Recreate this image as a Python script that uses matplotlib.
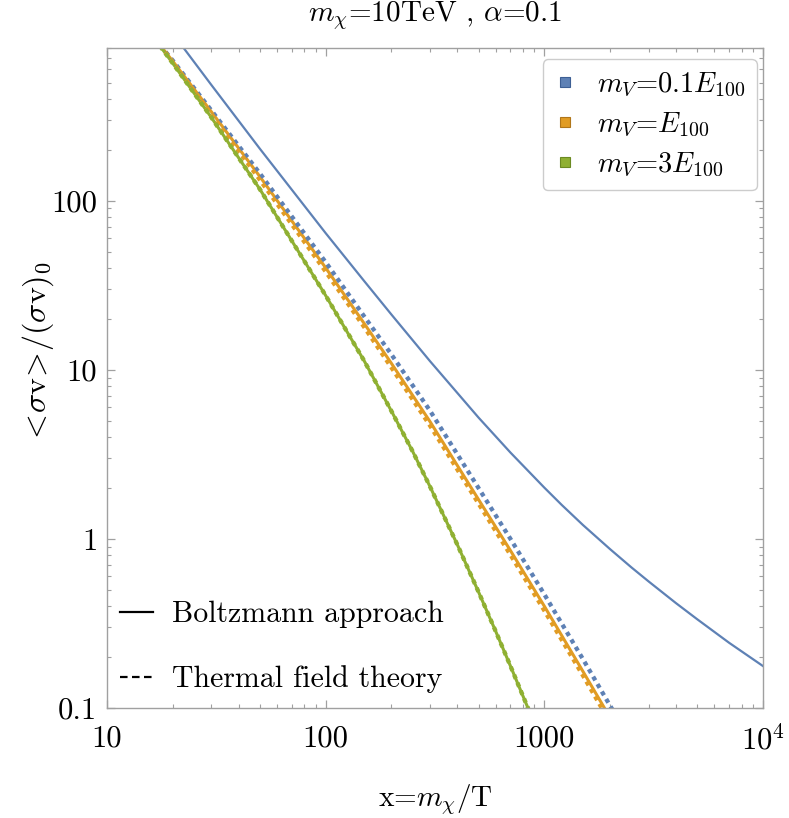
import matplotlib.pyplot as plt
from matplotlib.lines import Line2D

# values (log-log)
x_blue_solid = [20, 22, 30, 50, 100, 150, 200, 300, 500, 700, 1000, 1200, 1500, 2000, 2500, 3000, 4000,
                5000, 7000, 10000]
y_blue_solid = [970, 826, 484, 203, 64.3, 33.5, 21.2, 11.25, 5.22, 3.24, 2.01, 1.59, 1.21, 0.869, 0.679,
                0.560, 0.417, 0.335, 0.243, 0.177]

x_orange_solid = [17.5, 20, 30, 50, 100, 150, 200, 300, 500, 700, 1000, 1500, 1900, 2000]
y_orange_solid = [830, 668, 336, 139, 40.1, 18.8, 10.9, 4.94, 1.71, 0.853, 0.40, 0.165, 0.098, 0.088]

x_blue_dashed = [17.5, 20, 30, 50, 100, 150, 200, 300, 500, 700, 1000, 1500, 2000, 2100]
y_blue_dashed = [830, 674, 342, 145, 43.3, 20.7, 12.3, 5.73, 2.0, 1.0, 0.47, 0.195, 0.103, 0.093]

x_orange_dashed = [17.5, 20, 30, 50, 100, 150, 200, 300, 500, 700, 1000, 1500, 1900]
y_orange_dashed = [830, 661, 328, 133, 38.1, 17.9, 10.3, 4.68, 1.62, 0.805, 0.377, 0.156, 0.092]

x_green = [17.5, 20, 30, 50, 100, 150, 200, 250, 300, 400, 500, 600, 700, 850]
y_green = [820, 649, 311, 117, 27.5, 11.3, 5.69, 3.29, 2.04, 0.925, 0.486, 0.283, 0.177, 0.097]

x_ticks = [10, 100, 1000, 10000]
x_tick_labels = ['10', '100', '1000', r'$10^4$']
y_ticks = [0.1, 1, 10, 100]
y_tick_labels = ['0.1', '1', '10', '100']

series_labels = [r'$m_V$=0.1$E_{100}$', r'$m_V$=$E_{100}$', r'$m_V$=3$E_{100}$']
method_labels = ['Boltzmann approach', 'Thermal field theory']

blue, orange, green = '#5e81b5', '#e19c24', '#8fb032'
edge_colors = ['#3d5f94', '#b0761a', '#6b8a22']

plt.rcParams['font.family'] = 'cmr10'
plt.rcParams['mathtext.fontset'] = 'cm'
plt.rcParams['axes.formatter.use_mathtext'] = True
plt.rcParams['font.size'] = 21

W, H = 789, 818
fig = plt.figure(figsize=(W / 100, H / 100), dpi=100)
ax = fig.add_axes([107 / W, 1 - 708 / H, 656 / W, 660 / H])

lw_solid = 1.6
lw_dash = 3.1
dash = (0, (1.0, 1.0))

ax.plot(x_blue_solid, y_blue_solid, color=blue, lw=lw_solid)
ax.plot(x_orange_solid, y_orange_solid, color=orange, lw=lw_solid + 0.6)
ax.plot(x_green, y_green, color=green, lw=lw_solid + 0.6)
ax.plot(x_blue_dashed, y_blue_dashed, color=blue, lw=lw_dash, linestyle=dash)
ax.plot(x_orange_dashed, y_orange_dashed, color=orange, lw=lw_dash, linestyle=dash)
ax.plot(x_green, y_green, color=green, lw=lw_dash, linestyle=dash)

ax.set_xscale('log')
ax.set_yscale('log')
ax.set_xlim(10, 10000)
ax.set_ylim(0.1, 800)
ax.set_xticks(x_ticks, x_tick_labels)
ax.set_yticks(y_ticks, y_tick_labels)

frame_gray = '#a0a0a0'
for side in ax.spines.values():
    side.set_color(frame_gray)
    side.set_linewidth(1.0)
ax.tick_params(which='both', direction='in', top=True, right=True, color=frame_gray)
ax.tick_params(which='major', length=6, width=0.9, labelsize=22)
ax.tick_params(axis='x', which='major', pad=12)
ax.tick_params(axis='y', which='major', pad=7)
ax.tick_params(which='minor', length=3, width=0.8)

# series legend (top right)
handles = [Line2D([], [], marker='s', linestyle='none', markersize=7,
                  markerfacecolor=c, markeredgecolor=e, markeredgewidth=0.8)
           for c, e in zip([blue, orange, green], edge_colors)]
leg = ax.legend(handles, series_labels, loc='upper right', bbox_to_anchor=(0.991, 0.983),
                fontsize=20.5, frameon=True, fancybox=True, edgecolor='#cccccc',
                framealpha=1, labelspacing=0.42, handlelength=0.8, handletextpad=0.7,
                borderpad=0.4, borderaxespad=0)
leg.get_frame().set_linewidth(1.0)
ax.add_artist(leg)

# method legend (bottom left)
method_handles = [Line2D([], [], color='black', lw=1.6),
                  Line2D([], [], color='black', lw=1.6, linestyle=(0, (3.4, 2.0)))]
ax.legend(method_handles, method_labels, loc='lower left', bbox_to_anchor=(0.02, 0.022),
          fontsize=21.5, frameon=False, labelspacing=1.25, handlelength=1.1,
          handletextpad=0.65, borderpad=0, borderaxespad=0)

fig.text(435 / W, 1 - 16 / H, r'$m_\chi$=10TeV , $\alpha$=0.1', ha='center', va='center', fontsize=21)
fig.text(435 / W, 1 - 800 / H, r'x=$m_\chi$/T', ha='center', va='center', fontsize=21)
fig.text(38 / W, 1 - 350 / H, r'$\!<\!\sigma\mathrm{v}\!>\!/(\sigma\mathrm{v})_0$',
         ha='center', va='center', rotation=90, fontsize=23)

fig.savefig('out.png', dpi=100)
